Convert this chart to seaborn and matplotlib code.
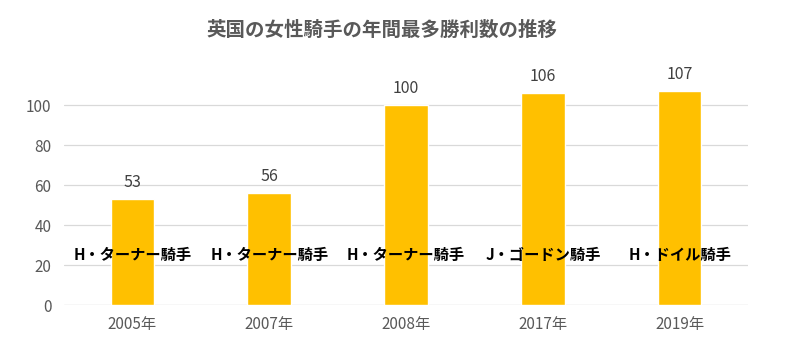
import matplotlib
matplotlib.use("Agg")
import matplotlib.pyplot as plt
import seaborn as sns
import pandas as pd

years = ["2005年", "2007年", "2008年", "2017年", "2019年"]
wins = [53, 56, 100, 106, 107]
riders = ["H・ターナー騎手", "H・ターナー騎手", "H・ターナー騎手", "J・ゴードン騎手", "H・ドイル騎手"]
title = "英国の女性騎手の年間最多勝利数の推移"

sns.set_theme(style="white")
plt.rcParams['font.family'] = ['Noto Sans CJK JP', 'DejaVu Sans']

df = pd.DataFrame({"year": years, "wins": wins})

fig = plt.figure(figsize=(7.92, 3.59), dpi=100)
ax = fig.add_axes([64/792, 1 - 305/359, 684/792, 240/359])
sns.barplot(data=df, x="year", y="wins", color="#FFC000", saturation=1, width=0.32, ax=ax)

ax.set_ylim(0, 120)
ax.set_xlim(-0.5, len(years) - 0.5)
ax.set_yticks([0, 20, 40, 60, 80, 100])
for t in [20, 40, 60, 80, 100]:
    ax.axhline(t, color="#D9D9D9", lw=0.9, zorder=0)
ax.axhline(0, color="#D9D9D9", lw=1.0, zorder=0)
for s in ax.spines.values():
    s.set_visible(False)
ax.set_xlabel("")
ax.set_ylabel("")
ax.tick_params(axis="both", length=0, colors="#595959", labelsize=11)
ax.tick_params(axis="y", pad=9)
ax.tick_params(axis="x", pad=8)

for i, v in enumerate(wins):
    ax.text(i, v + 4, str(v), ha="center", va="bottom", fontsize=11.5, color="#404040")
    ax.text(i, 25, riders[i], ha="center", va="center", fontsize=11, color="black", fontweight="bold")

fig.text(382/792, 1 - 30/359, title, ha="center", va="center", fontsize=14,
         color="#595959", fontweight="bold")

fig.savefig("out.png", dpi=100)
